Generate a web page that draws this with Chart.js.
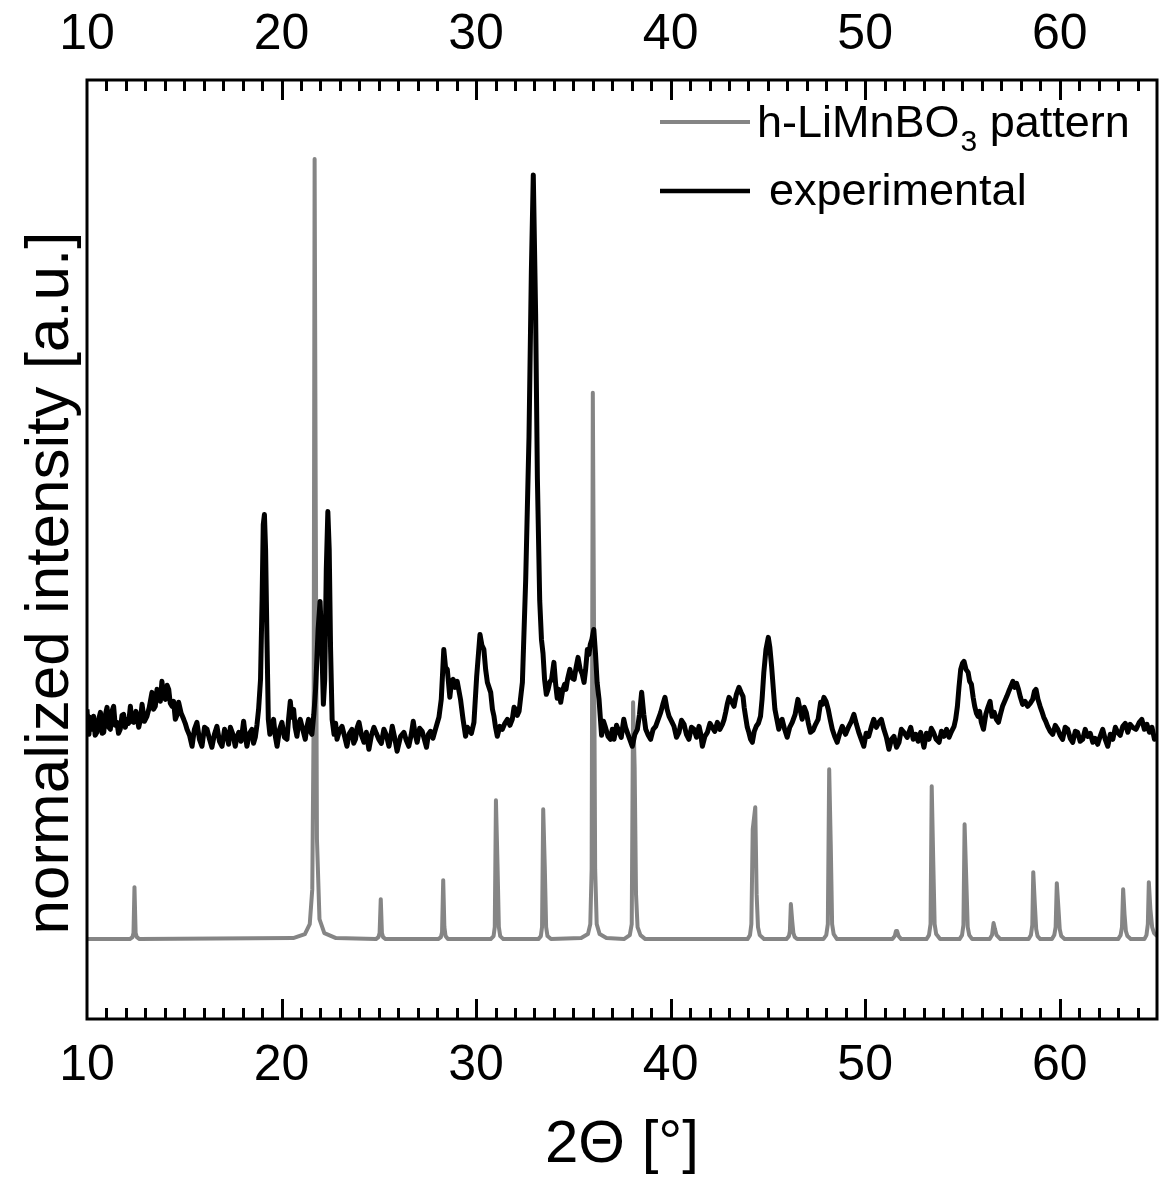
<!DOCTYPE html>
<html>
<head>
<meta charset="utf-8">
<script src="https://cdn.jsdelivr.net/npm/chart.js@4.4.0/dist/chart.umd.min.js"></script>
<style>
  html, body { margin: 0; padding: 0; background: #fff; }
  #wrap { width: 1160px; height: 1180px; }
</style>
</head>
<body>
<div id="wrap"><canvas id="c" width="1160" height="1180"></canvas></div>
<script>
// XRD: simulated h-LiMnBO3 pattern vs. measured sample
const FONT = '"Liberation Sans", Arial, sans-serif';

const xTicks = [10, 20, 30, 40, 50, 60];
const xTitle = '2\u0398 [\u00b0]';
const yTitle = 'normalized intensity [a.u.]';

// [2theta, intensity] (intensity in arbitrary units)
const patternPoints = [
  [10.0, 80], [12.2, 80], [12.34, 82], [12.39, 86], [12.44, 132], [12.50, 86], [12.56, 82], [12.7, 80],
  [20.6, 81], [21.2, 85], [21.45, 95], [21.58, 130], [21.65, 300], [21.70, 861], [21.76, 500],
  [21.82, 180], [21.95, 100], [22.2, 86], [22.8, 81],
  [24.85, 80], [24.98, 82], [25.04, 86], [25.10, 120], [25.16, 86], [25.22, 82], [25.35, 80],
  [28.05, 80], [28.19, 82], [28.25, 87], [28.31, 139], [28.37, 92], [28.43, 83], [28.55, 80],
  [30.75, 80], [30.9, 83], [30.96, 92], [31.02, 219], [31.10, 155], [31.17, 92], [31.24, 83], [31.4, 80],
  [33.2, 80], [33.33, 83], [33.39, 92], [33.45, 210], [33.53, 153], [33.6, 92], [33.67, 83], [33.85, 80],
  [35.4, 81], [35.75, 85], [35.87, 95], [35.94, 150], [36.0, 627], [36.07, 360], [36.12, 150],
  [36.2, 95], [36.35, 85], [36.7, 81],
  [37.6, 80], [37.9, 84], [38.0, 95], [38.07, 317], [38.15, 252], [38.22, 125], [38.3, 92], [38.45, 84], [38.7, 80],
  [43.95, 80], [44.08, 84], [44.15, 95], [44.22, 190], [44.35, 212], [44.42, 125], [44.49, 92], [44.58, 84], [44.8, 80],
  [45.95, 80], [46.08, 83], [46.13, 88], [46.18, 115], [46.25, 98], [46.31, 86], [46.38, 82], [46.5, 80],
  [47.85, 80], [48.0, 84], [48.08, 95], [48.15, 250], [48.23, 175], [48.3, 95], [48.38, 85], [48.55, 80],
  [51.4, 80], [51.52, 83], [51.58, 88], [51.64, 88], [51.72, 83], [51.85, 80],
  [53.15, 80], [53.28, 84], [53.36, 95], [53.42, 233], [53.5, 157], [53.57, 95], [53.65, 85], [53.85, 80],
  [54.85, 80], [54.98, 84], [55.05, 94], [55.11, 195], [55.2, 137], [55.27, 92], [55.35, 84], [55.5, 80],
  [56.4, 80], [56.52, 84], [56.6, 96], [56.67, 90], [56.75, 84], [56.95, 80],
  [58.4, 80], [58.52, 84], [58.59, 94], [58.64, 147], [58.72, 115], [58.79, 90], [58.86, 83], [59.0, 80],
  [59.6, 80], [59.72, 84], [59.79, 92], [59.85, 136], [59.93, 112], [60.0, 90], [60.08, 83], [60.25, 80],
  [63.0, 80], [63.13, 84], [63.2, 92], [63.26, 130], [63.33, 105], [63.4, 88], [63.48, 83], [63.65, 80],
  [64.35, 80], [64.46, 84], [64.53, 95], [64.58, 137], [64.66, 110], [64.75, 92], [64.85, 86], [65.0, 83]
];

const experimentalPoints = [
  [10.00, 310], [10.06, 288], [10.10, 285], [10.15, 302], [10.20, 300], [10.27, 290], [10.34, 303],
  [10.42, 284], [10.51, 287], [10.60, 300], [10.69, 307], [10.78, 286], [10.86, 287], [10.95, 305],
  [11.03, 312], [11.12, 292], [11.20, 290], [11.28, 308], [11.37, 313], [11.45, 294], [11.54, 297],
  [11.62, 286], [11.71, 290], [11.80, 304], [11.88, 305], [11.97, 292], [12.06, 300], [12.14, 296],
  [12.23, 313], [12.31, 298], [12.40, 297], [12.52, 308], [12.66, 292], [12.75, 300], [12.83, 315],
  [12.95, 298], [13.08, 303], [13.20, 312], [13.34, 327], [13.42, 310], [13.51, 313], [13.60, 330],
  [13.68, 327], [13.77, 318], [13.85, 338], [13.94, 322], [14.03, 320], [14.12, 334], [14.20, 330],
  [14.28, 316], [14.37, 313], [14.45, 318], [14.54, 300], [14.62, 304], [14.71, 317], [14.84, 306],
  [14.97, 300], [15.05, 296], [15.14, 290], [15.27, 284], [15.40, 273], [15.52, 290], [15.65, 297],
  [15.78, 280], [15.91, 273], [16.04, 292], [16.17, 290], [16.30, 280], [16.42, 272], [16.55, 285],
  [16.68, 293], [16.81, 278], [16.94, 273], [17.07, 290], [17.20, 283], [17.28, 275], [17.37, 292],
  [17.50, 285], [17.62, 273], [17.71, 282], [17.80, 287], [17.92, 278], [18.05, 298], [18.13, 285],
  [18.22, 273], [18.35, 286], [18.48, 290], [18.56, 276], [18.65, 282], [18.74, 295], [18.82, 310],
  [18.92, 340], [19.00, 420], [19.06, 495], [19.12, 505], [19.18, 470], [19.25, 380], [19.32, 300],
  [19.40, 285], [19.50, 292], [19.59, 300], [19.68, 283], [19.77, 273], [19.90, 290], [20.02, 297],
  [20.15, 282], [20.28, 280], [20.36, 300], [20.45, 318], [20.53, 302], [20.62, 310], [20.70, 292],
  [20.79, 283], [20.88, 296], [20.96, 300], [21.09, 290], [21.22, 280], [21.30, 292], [21.39, 300],
  [21.48, 288], [21.56, 285], [21.66, 305], [21.75, 330], [21.88, 390], [21.98, 418], [22.06, 380],
  [22.15, 315], [22.22, 340], [22.30, 450], [22.38, 508], [22.45, 470], [22.52, 370], [22.60, 300],
  [22.70, 285], [22.78, 296], [22.85, 280], [22.98, 289], [23.11, 293], [23.24, 283], [23.36, 273],
  [23.49, 286], [23.62, 290], [23.71, 276], [23.80, 280], [23.89, 292], [23.98, 297], [24.11, 284],
  [24.24, 277], [24.36, 287], [24.49, 270], [24.62, 284], [24.75, 292], [24.87, 286], [25.00, 280],
  [25.13, 276], [25.26, 290], [25.39, 284], [25.52, 273], [25.60, 281], [25.69, 293], [25.81, 282],
  [25.94, 268], [26.12, 283], [26.29, 287], [26.41, 279], [26.54, 273], [26.66, 284], [26.77, 298],
  [26.87, 285], [26.97, 277], [27.10, 291], [27.23, 288], [27.34, 280], [27.45, 272], [27.55, 285],
  [27.66, 288], [27.78, 281], [27.91, 290], [28.00, 296], [28.09, 302], [28.21, 320], [28.34, 370],
  [28.43, 352], [28.52, 350], [28.65, 322], [28.74, 338], [28.82, 340], [28.92, 332], [29.03, 338],
  [29.20, 320], [29.33, 300], [29.46, 283], [29.55, 292], [29.63, 290], [29.76, 286], [29.89, 297],
  [30.03, 343], [30.20, 385], [30.30, 374], [30.40, 370], [30.49, 350], [30.58, 337], [30.75, 327],
  [30.84, 310], [30.92, 303], [31.00, 292], [31.09, 283], [31.22, 293], [31.35, 290], [31.48, 296],
  [31.61, 300], [31.74, 294], [31.86, 300], [31.95, 312], [32.03, 310], [32.12, 304], [32.21, 308],
  [32.38, 337], [32.55, 440], [32.72, 583], [32.84, 747], [32.94, 845], [33.06, 706], [33.15, 542],
  [33.27, 419], [33.36, 380], [33.44, 366], [33.52, 340], [33.61, 325], [33.70, 330], [33.78, 337],
  [33.88, 340], [34.00, 357], [34.09, 335], [34.17, 321], [34.26, 330], [34.35, 317], [34.45, 329],
  [34.55, 335], [34.62, 330], [34.70, 340], [34.82, 350], [34.95, 341], [35.04, 340], [35.14, 352],
  [35.24, 362], [35.35, 350], [35.46, 345], [35.55, 337], [35.63, 350], [35.72, 370], [35.80, 365],
  [35.87, 375], [35.95, 380], [36.05, 390], [36.14, 365], [36.22, 337], [36.32, 320], [36.45, 284],
  [36.55, 298], [36.65, 292], [36.78, 283], [36.91, 280], [37.00, 290], [37.09, 280], [37.22, 294],
  [37.34, 288], [37.46, 282], [37.59, 300], [37.68, 292], [37.77, 287], [37.90, 280], [38.03, 273],
  [38.16, 285], [38.29, 290], [38.40, 305], [38.51, 327], [38.62, 305], [38.72, 290], [38.85, 284],
  [38.97, 280], [39.10, 290], [39.23, 293], [39.36, 300], [39.49, 307], [39.60, 315], [39.71, 322],
  [39.82, 310], [39.92, 303], [40.05, 298], [40.17, 293], [40.30, 282], [40.43, 287], [40.56, 299],
  [40.69, 295], [40.81, 285], [40.94, 280], [41.07, 292], [41.20, 290], [41.33, 282], [41.46, 293],
  [41.55, 285], [41.63, 273], [41.76, 283], [41.89, 287], [42.02, 296], [42.14, 292], [42.27, 288],
  [42.40, 297], [42.53, 290], [42.66, 295], [42.75, 300], [42.83, 307], [42.92, 316], [43.00, 322],
  [43.13, 318], [43.26, 313], [43.38, 325], [43.51, 332], [43.62, 327], [43.72, 323], [43.78, 312],
  [43.85, 303], [43.94, 292], [44.02, 287], [44.11, 280], [44.20, 277], [44.30, 288], [44.40, 293],
  [44.51, 296], [44.62, 303], [44.70, 320], [44.79, 347], [44.90, 370], [45.02, 382], [45.10, 372],
  [45.19, 353], [45.28, 330], [45.36, 310], [45.46, 300], [45.56, 290], [45.65, 298], [45.73, 300],
  [45.86, 290], [45.99, 282], [46.12, 292], [46.25, 297], [46.40, 305], [46.54, 320], [46.65, 310],
  [46.76, 300], [46.87, 312], [46.97, 307], [47.08, 296], [47.19, 287], [47.32, 289], [47.45, 295],
  [47.58, 300], [47.71, 317], [47.80, 315], [47.88, 322], [47.99, 318], [48.10, 310], [48.20, 300],
  [48.31, 290], [48.43, 283], [48.56, 277], [48.69, 286], [48.82, 293], [48.99, 285], [49.16, 293],
  [49.29, 298], [49.42, 305], [49.55, 295], [49.67, 287], [49.80, 280], [49.93, 273], [50.05, 286],
  [50.18, 283], [50.31, 292], [50.44, 300], [50.57, 292], [50.70, 297], [50.83, 300], [50.96, 290],
  [51.09, 282], [51.22, 270], [51.35, 280], [51.48, 283], [51.61, 272], [51.74, 277], [51.86, 290],
  [51.99, 287], [52.16, 282], [52.34, 292], [52.47, 280], [52.60, 285], [52.72, 278], [52.85, 287],
  [52.93, 280], [53.02, 272], [53.15, 286], [53.28, 280], [53.40, 291], [53.51, 287], [53.65, 280],
  [53.80, 277], [53.92, 288], [54.05, 283], [54.18, 290], [54.31, 282], [54.44, 288], [54.57, 293],
  [54.65, 300], [54.74, 313], [54.82, 332], [54.91, 350], [55.00, 356], [55.08, 358], [55.18, 350],
  [55.29, 347], [55.37, 338], [55.46, 335], [55.55, 322], [55.63, 313], [55.72, 306], [55.80, 303],
  [55.88, 308], [55.97, 297], [56.08, 290], [56.20, 305], [56.31, 312], [56.42, 318], [56.52, 303],
  [56.63, 307], [56.74, 300], [56.85, 297], [56.95, 305], [57.06, 313], [57.17, 318], [57.28, 323],
  [57.38, 328], [57.49, 333], [57.59, 338], [57.69, 332], [57.78, 336], [57.88, 330], [57.98, 322],
  [58.09, 315], [58.22, 318], [58.35, 313], [58.48, 316], [58.61, 320], [58.70, 328], [58.78, 330],
  [58.88, 320], [58.99, 313], [59.08, 308], [59.18, 302], [59.28, 298], [59.38, 293], [59.51, 288],
  [59.64, 285], [59.77, 294], [59.90, 290], [60.02, 284], [60.15, 280], [60.28, 292], [60.41, 290],
  [60.54, 281], [60.67, 277], [60.80, 288], [60.92, 287], [61.05, 278], [61.18, 280], [61.31, 290],
  [61.44, 283], [61.57, 286], [61.70, 277], [61.82, 281], [61.95, 275], [62.08, 283], [62.21, 290],
  [62.34, 280], [62.47, 273], [62.60, 285], [62.73, 280], [62.86, 292], [62.98, 287], [63.11, 284],
  [63.24, 293], [63.37, 296], [63.50, 287], [63.62, 295], [63.75, 292], [63.92, 290], [64.09, 297],
  [64.22, 300], [64.35, 290], [64.48, 295], [64.61, 287], [64.74, 292], [64.87, 280], [65.00, 285]
];

const toXY = pts => pts.map(p => ({ x: p[0], y: p[1] }));

// frame + inward ticks on top and bottom
const frameTicks = {
  id: 'frameTicks',
  afterDatasetsDraw(chart) {
    const { ctx, chartArea: a, scales: { x } } = chart;
    ctx.save();
    ctx.strokeStyle = '#000';
    ctx.lineWidth = 3;
    ctx.strokeRect(a.left, a.top, a.right - a.left, a.bottom - a.top);
    for (let v = 11; v < 65; v++) {
      const px = Math.round(x.getPixelForValue(v)) + 0.5;
      const len = v % 10 === 0 ? 20 : 11;
      ctx.beginPath();
      ctx.moveTo(px, a.bottom);
      ctx.lineTo(px, a.bottom - len);
      ctx.moveTo(px, a.top);
      ctx.lineTo(px, a.top + len);
      ctx.stroke();
    }
    ctx.restore();
  }
};

// legend (needs a subscript) and axis titles
const textBits = {
  id: 'textBits',
  afterDraw(chart) {
    const ctx = chart.ctx;
    const a = chart.chartArea;
    ctx.save();
    ctx.fillStyle = '#000';
    ctx.textBaseline = 'alphabetic';

    ctx.lineWidth = 4;
    ctx.strokeStyle = '#858585';
    ctx.beginPath(); ctx.moveTo(660, 122); ctx.lineTo(750, 122); ctx.stroke();
    ctx.lineWidth = 4.5;
    ctx.strokeStyle = '#000';
    ctx.beginPath(); ctx.moveTo(660, 191); ctx.lineTo(750, 191); ctx.stroke();

    let tx = 757;
    ctx.font = '45px ' + FONT;
    ctx.textAlign = 'left';
    ctx.fillText('h-LiMnBO', tx, 137);
    tx += ctx.measureText('h-LiMnBO').width + 1;
    ctx.font = '30px ' + FONT;
    ctx.fillText('3', tx, 151);
    tx += ctx.measureText('3').width;
    ctx.font = '45px ' + FONT;
    ctx.fillText(' pattern', tx, 137);
    ctx.fillText('experimental', 769, 205);

    ctx.font = '60px ' + FONT;
    ctx.textAlign = 'center';
    ctx.fillText(xTitle, (a.left + a.right) / 2, 1162);

    ctx.font = '62px ' + FONT;
    ctx.translate(68, 583);
    ctx.rotate(-Math.PI / 2);
    ctx.fillText(yTitle, 0, 0);
    ctx.restore();
  }
};

const tickFont = { family: FONT, size: 50 };

new Chart(document.getElementById('c'), {
  type: 'line',
  data: {
    datasets: [
      {
        label: 'h-LiMnBO3 pattern',
        data: toXY(patternPoints),
        borderColor: '#858585',
        borderWidth: 4,
        pointRadius: 0,
        tension: 0,
        borderJoinStyle: 'round',
        order: 1
      },
      {
        label: 'experimental',
        data: toXY(experimentalPoints),
        borderColor: '#000',
        borderWidth: 5,
        pointRadius: 0,
        tension: 0,
        borderJoinStyle: 'round',
        order: 0
      }
    ]
  },
  options: {
    responsive: false,
    animation: false,
    devicePixelRatio: 1,
    layout: { padding: { right: 3 } },
    plugins: { legend: { display: false }, tooltip: { enabled: false } },
    scales: {
      x: {
        type: 'linear',
        position: 'bottom',
        min: 10,
        max: 65,
        afterBuildTicks: s => { s.ticks = xTicks.map(v => ({ value: v })); },
        afterFit: s => { s.height = 161; },
        ticks: { font: tickFont, color: '#000', padding: 17, maxRotation: 0, autoSkip: false },
        grid: { display: false, drawTicks: false },
        border: { display: false }
      },
      x2: {
        type: 'linear',
        position: 'top',
        min: 10,
        max: 65,
        afterBuildTicks: s => { s.ticks = xTicks.map(v => ({ value: v })); },
        afterFit: s => { s.height = 80; },
        ticks: { font: tickFont, color: '#000', padding: 15, maxRotation: 0, autoSkip: false },
        grid: { display: false, drawTicks: false },
        border: { display: false }
      },
      y: {
        min: 0,
        max: 940,
        afterFit: s => { s.width = 87; },
        ticks: { display: false },
        grid: { display: false, drawTicks: false },
        border: { display: false }
      }
    }
  },
  plugins: [frameTicks, textBits]
});
</script>
</body>
</html>
